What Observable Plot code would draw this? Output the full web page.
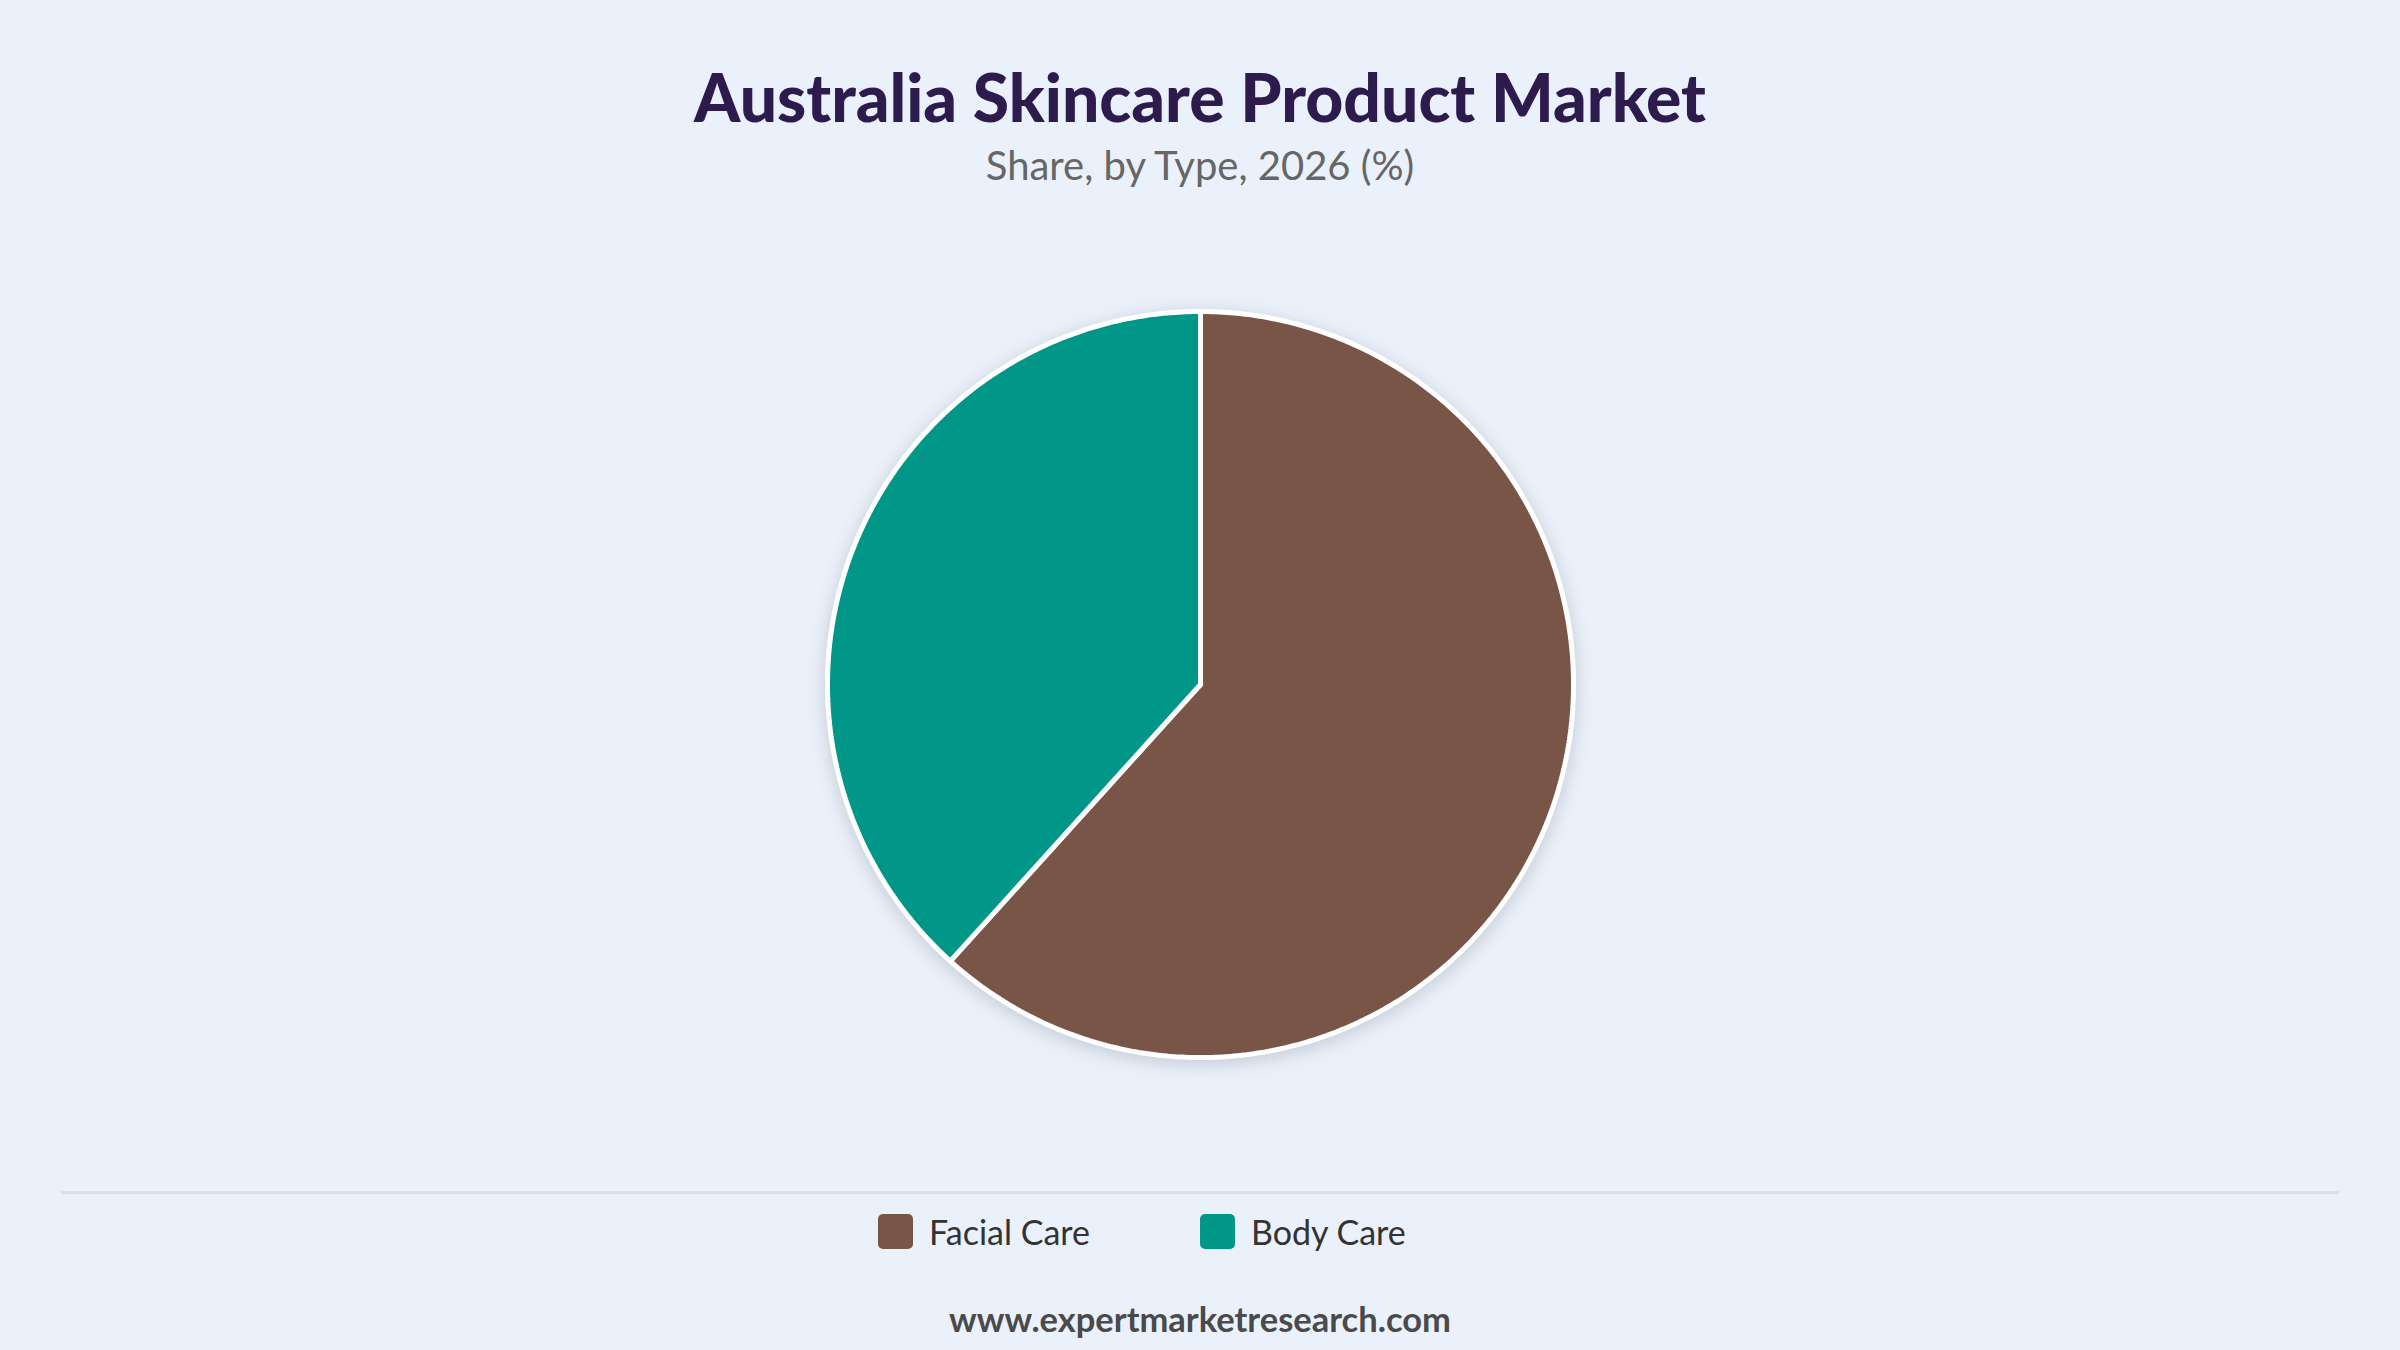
<!DOCTYPE html>
<html>
<head>
<meta charset="utf-8">
<script src="https://cdn.jsdelivr.net/npm/d3@7"></script>
<script src="https://cdn.jsdelivr.net/npm/@observablehq/plot@0.6"></script>
<style>
  html, body { margin: 0; padding: 0; }
  body { width: 2400px; height: 1350px; background: #eaf1fb; position: relative; overflow: hidden; font-family: Lato, "Noto Sans", sans-serif; }
  #title { position: absolute; top: 64px; left: 0; width: 2400px; text-align: center; font-size: 66px; font-weight: 900; color: #2d1b4e; line-height: 1; }
  #subtitle { position: absolute; top: 145px; left: 0; width: 2400px; text-align: center; font-size: 40px; color: #666666; line-height: 1; }
  #chart { position: absolute; top: 234px; left: 0; }
  #chart g[aria-label="line"] { filter: drop-shadow(0px 4px 9px rgba(0,0,0,0.16)); }
  #rule { position: absolute; top: 1191px; left: 61px; width: 2278px; height: 3px; background: #dcdfe4; }
  #legend { position: absolute; top: 1211px; left: 878px; display: flex; align-items: center; font-size: 34px; color: #333333; }
  .item { display: flex; align-items: center; }
  .sw { width: 35px; height: 35px; border-radius: 5px; margin-right: 16px; }
  #footer { position: absolute; top: 1302px; left: 0; width: 2400px; text-align: center; font-size: 34.5px; font-weight: 700; color: #4a4a4a; line-height: 1; }
</style>
</head>
<body>
<div id="title">Australia Skincare Product Market</div>
<div id="subtitle">Share, by Type, 2026 (%)</div>
<div id="chart"></div>
<div id="rule"></div>
<div id="legend"></div>
<div id="footer">www.expertmarketresearch.com</div>
<script>
const categories = ["Facial Care", "Body Care"];
const shares = [61.7, 38.3];
const colors = ["#795548", "#009688"];

const data = categories.map((name, i) => ({name, value: shares[i]}));
const arcs = d3.pie().sort(null).value(d => d.value)(data);

// Build wedge outlines (center -> arc -> center) in unit-circle data space
const pts = [];
arcs.forEach(a => {
  const name = a.data.name;
  pts.push({name, x: 0, y: 0});
  const steps = Math.max(2, Math.ceil((a.endAngle - a.startAngle) / 0.01));
  for (let k = 0; k <= steps; k++) {
    const t = a.startAngle + (a.endAngle - a.startAngle) * k / steps;
    pts.push({name, x: Math.sin(t), y: Math.cos(t)});
  }
  pts.push({name, x: 0, y: 0});
});

const R = 373, cx = 1200, cy = 450;
const chart = Plot.plot({
  width: 2400,
  height: 900,
  style: {background: "transparent", overflow: "visible"},
  x: {domain: [-1, 1], range: [cx - R, cx + R], axis: null},
  y: {domain: [-1, 1], range: [cy + R, cy - R], axis: null},
  color: {domain: categories, range: colors},
  marks: [
    Plot.line(pts, {x: "x", y: "y", z: "name", fill: "name", stroke: "white", strokeWidth: 5, strokeLinejoin: "miter", curve: "linear"})
  ]
});
document.getElementById("chart").appendChild(chart);

const legend = document.getElementById("legend");
categories.forEach((c, i) => {
  const item = document.createElement("div");
  item.className = "item";
  item.style.marginRight = i === 0 ? "110px" : "0";
  const sw = document.createElement("div");
  sw.className = "sw";
  sw.style.background = colors[i];
  const label = document.createElement("span");
  label.textContent = c;
  item.appendChild(sw);
  item.appendChild(label);
  legend.appendChild(item);
});
</script>
</body>
</html>
